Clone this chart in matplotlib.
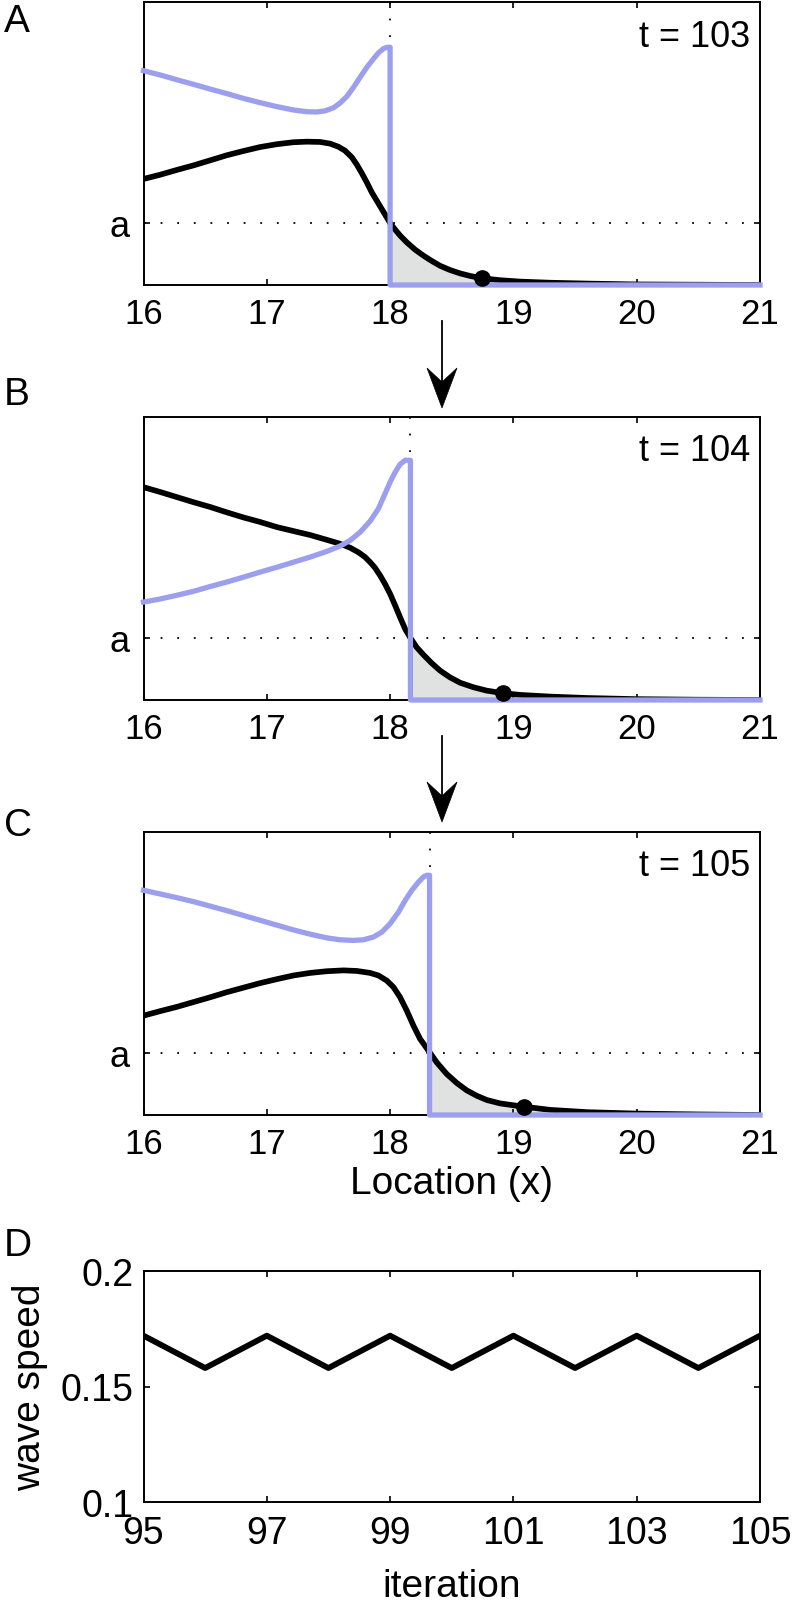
import numpy as np
import matplotlib
matplotlib.use("Agg")
import matplotlib.pyplot as plt
from matplotlib.patches import Polygon

plt.rcParams['font.family'] = ['Liberation Sans', 'DejaVu Sans']

W, H = 796, 1608
BLUE = '#9b9fee'
FILL = '#dfe2e1'
A_LEVEL = 0.22

# panel A (t = 103)
xA_black = [16.0, 16.135, 16.27, 16.405, 16.541, 16.676, 16.811, 16.946, 17.081, 17.216,
            17.324, 17.432, 17.514, 17.581, 17.635, 17.689, 17.73, 17.77, 17.811, 17.851,
            17.892, 17.932, 17.973, 18.0, 18.041, 18.081, 18.135, 18.203, 18.27, 18.338,
            18.405, 18.486, 18.568, 18.649, 18.743, 18.892, 19.054, 19.3, 19.6, 20.0, 20.5, 21.0]
yA_black = [0.375, 0.390, 0.407, 0.423, 0.441, 0.459, 0.474, 0.488, 0.498, 0.505,
            0.507, 0.506, 0.500, 0.489, 0.475, 0.452, 0.426, 0.396, 0.363, 0.328,
            0.298, 0.269, 0.239, 0.219, 0.196, 0.175, 0.151, 0.125, 0.104, 0.085,
            0.068, 0.053, 0.041, 0.032, 0.024, 0.017, 0.012, 0.008, 0.005, 0.002, 0.001, 0.0]
xA_blue = [16.0, 16.135, 16.27, 16.405, 16.541, 16.676, 16.811, 16.946, 17.081, 17.216,
           17.324, 17.405, 17.473, 17.541, 17.595, 17.649, 17.703, 17.757, 17.811, 17.865,
           17.905, 17.946, 17.978, 18.0, 18.0, 21.0]
yA_blue = [0.758, 0.743, 0.726, 0.710, 0.693, 0.677, 0.660, 0.645, 0.631, 0.619,
           0.613, 0.612, 0.616, 0.627, 0.644, 0.667, 0.699, 0.735, 0.770, 0.800,
           0.821, 0.836, 0.841, 0.841, 0.0, 0.0]

# panel B (t = 104)
xB_black = [16.0, 16.135, 16.27, 16.405, 16.541, 16.676, 16.811, 16.946, 17.081, 17.216,
            17.351, 17.486, 17.595, 17.676, 17.743, 17.797, 17.838, 17.878, 17.919, 17.959,
            18.0, 18.041, 18.081, 18.122, 18.165, 18.216, 18.27, 18.338, 18.405, 18.486,
            18.568, 18.676, 18.784, 18.919, 19.054, 19.3, 19.6, 20.0, 20.5, 21.0]
yB_black = [0.752, 0.735, 0.717, 0.699, 0.682, 0.663, 0.645, 0.629, 0.611, 0.597,
            0.583, 0.566, 0.552, 0.538, 0.522, 0.505, 0.487, 0.467, 0.440, 0.410,
            0.375, 0.334, 0.292, 0.251, 0.219, 0.186, 0.160, 0.130, 0.104, 0.080,
            0.061, 0.045, 0.033, 0.024, 0.018, 0.012, 0.007, 0.003, 0.001, 0.0]
xB_blue = [16.0, 16.135, 16.27, 16.405, 16.541, 16.676, 16.811, 16.946, 17.081, 17.216,
           17.351, 17.486, 17.595, 17.676, 17.757, 17.838, 17.905, 17.959, 18.0, 18.041,
           18.081, 18.122, 18.165, 18.165, 21.0]
yB_blue = [0.346, 0.357, 0.370, 0.384, 0.401, 0.417, 0.434, 0.452, 0.469, 0.487,
           0.505, 0.525, 0.544, 0.564, 0.593, 0.632, 0.676, 0.729, 0.770, 0.805,
           0.833, 0.847, 0.847, 0.0, 0.0]

# panel C (t = 105)
xC_black = [16.0, 16.135, 16.27, 16.405, 16.541, 16.676, 16.811, 16.946, 17.081, 17.216,
            17.351, 17.486, 17.622, 17.73, 17.838, 17.905, 17.973, 18.027, 18.081, 18.135,
            18.189, 18.243, 18.32, 18.378, 18.459, 18.541, 18.622, 18.703, 18.784, 18.892,
            19.054, 19.3, 19.6, 20.0, 20.5, 21.0]
yC_black = [0.351, 0.367, 0.382, 0.399, 0.416, 0.434, 0.450, 0.466, 0.480, 0.493,
            0.502, 0.508, 0.511, 0.509, 0.502, 0.493, 0.475, 0.452, 0.416, 0.369,
            0.316, 0.269, 0.222, 0.186, 0.145, 0.113, 0.087, 0.068, 0.053, 0.041,
            0.031, 0.018, 0.010, 0.005, 0.002, 0.0]
xC_blue = [16.0, 16.135, 16.27, 16.405, 16.541, 16.676, 16.811, 16.946, 17.081, 17.216,
           17.351, 17.486, 17.595, 17.703, 17.784, 17.865, 17.932, 18.0, 18.068, 18.122,
           18.176, 18.23, 18.27, 18.297, 18.32, 18.32, 21.0]
yC_blue = [0.794, 0.781, 0.768, 0.754, 0.738, 0.722, 0.705, 0.688, 0.671, 0.654,
           0.639, 0.626, 0.619, 0.617, 0.619, 0.629, 0.646, 0.676, 0.717, 0.758,
           0.794, 0.823, 0.841, 0.847, 0.847, 0.0, 0.0]

front_x = [18.0, 18.165, 18.32]
dot_x = [18.743, 18.919, 19.09]
dot_y = [0.024, 0.024, 0.029]
times = ['t = 103', 't = 104', 't = 105']

# panel D
iteration = [95, 96, 97, 98, 99, 100, 101, 102, 103, 104, 105]
wave_speed = [0.172, 0.158, 0.172, 0.158, 0.172, 0.158, 0.172, 0.158, 0.172, 0.158, 0.172]


def box(top, bottom, left=143.5, right=760.0):
    return [left / W, 1 - bottom / H, (right - left) / W, (bottom - top) / H]


def style_axes(ax, size, pad):
    for s in ax.spines.values():
        s.set_linewidth(1.4)
    ax.tick_params(direction='in', length=4, width=1.2, top=True, right=True,
                   labelsize=size, pad=pad)


fig = plt.figure(figsize=(W / 100, H / 100), dpi=100)

panels = [
    (box(3.3, 286), xA_black, yA_black, xA_blue, yA_blue),
    (box(418, 701), xB_black, yB_black, xB_blue, yB_blue),
    (box(833, 1116), xC_black, yC_black, xC_blue, yC_blue),
]
axes = []
for i, (pos, xk, yk, xb, yb) in enumerate(panels):
    ax = fig.add_axes(pos)
    xk = np.array(xk)
    yk = np.array(yk)
    front = front_x[i]
    m = xk >= front - 1e-9
    ax.fill_between(xk[m], 0, yk[m], color=FILL, lw=0, zorder=1)
    ax.axhline(A_LEVEL, color='k', lw=1.3, ls=(0, (1, 8.2)), zorder=2)
    ax.plot([front, front], [1.0, 0.86], color='k', lw=1.3, ls=(0, (1, 8.2)), zorder=2)
    ax.plot(xk, yk, color='k', lw=4.1, solid_joinstyle='round', zorder=3)
    ax.plot(xb, yb, color=BLUE, lw=3.8, solid_joinstyle='round', zorder=4, clip_on=False)
    ax.plot(dot_x[i], dot_y[i], 'o', color='k', ms=11, zorder=5, clip_on=False)
    ax.set_xlim(16, 21)
    ax.set_ylim(0, 1)
    ax.set_xticks([16, 17, 18, 19, 20, 21])
    ax.set_yticks([A_LEVEL])
    ax.set_yticklabels(['a'])
    style_axes(ax, 25, 9)
    ax.tick_params(axis='y', labelsize=26, pad=10)
    ax.text(0.984, 0.88, times[i], transform=ax.transAxes, ha='right', va='center',
            fontsize=26)
    axes.append(ax)

axes[2].set_xlabel('Location (x)', fontsize=28, labelpad=3)

axD = fig.add_axes(box(1272, 1503))
axD.plot(iteration, wave_speed, color='k', lw=4.2)
axD.set_xlim(95, 105)
axD.set_ylim(0.1, 0.2)
axD.set_xticks([95, 97, 99, 101, 103, 105])
axD.set_yticks([0.1, 0.15, 0.2])
axD.set_yticklabels(['0.1', '0.15', '0.2'])
style_axes(axD, 27, 9.4)
axD.tick_params(axis='y', pad=7)
axD.set_xlabel('iteration', fontsize=28, labelpad=12)
axD.set_ylabel('wave speed', fontsize=28)
axD.yaxis.set_label_coords(-0.155, 0.5)

# panel letters
for letter, yc in zip('ABCD', [22, 395, 826, 1246]):
    fig.text(4 / W, 1 - yc / H, letter, fontsize=28, ha='left', va='center')

# arrows between panels (pixel geometry converted to figure fraction)
arrow_x = 442
for y0, tip in [(322, 409), (737, 823)]:
    head_len, half_w, notch = 40, 15, 14
    fig.add_artist(plt.Line2D([arrow_x / W, arrow_x / W],
                              [1 - y0 / H, 1 - (tip - head_len + notch) / H],
                              color='k', lw=1.3))
    pts = [(arrow_x, tip), (arrow_x - half_w, tip - head_len),
           (arrow_x, tip - head_len + notch), (arrow_x + half_w, tip - head_len)]
    fig.add_artist(Polygon([(px / W, 1 - py / H) for px, py in pts], closed=True,
                           facecolor='k', edgecolor='k', lw=0.5,
                           transform=fig.transFigure))

fig.savefig('out.png', dpi=100)
